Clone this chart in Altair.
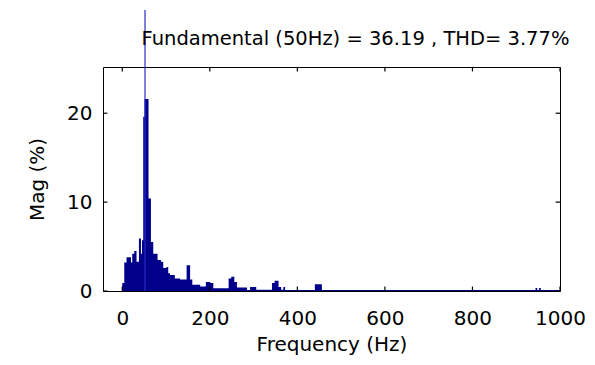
import altair as alt
import pandas as pd

# Spectrum: step segments starting at f_start (Hz), magnitude (% of fundamental)
f_start = [0, 4.6, 9.8, 19.9, 22.8, 27.4, 32.6, 38.1, 42.7, 45.0, 47.9, 50.9, 60.0, 65.5,
           70.8, 80.6, 88.4, 93.6, 101, 105, 109, 120, 132, 147, 155, 160, 178, 191, 201,
           208, 243, 249, 256, 262, 285, 292, 306, 342, 348, 357, 363, 368, 372, 440, 456,
           944, 948, 952, 956, 1000]
mag = [0.9, 3.2, 3.8, 3.2, 4.2, 4.5, 3.3, 5.9, 4.2, 5.7, 19.6, 21.6, 10.4, 5.5,
       4.2, 3.5, 3.3, 2.6, 2.7, 2.0, 1.8, 1.4, 1.3, 2.9, 1.3, 0.7, 0.5, 1.0, 0.9,
       0.3, 1.4, 1.6, 1.0, 0.4, 0.1, 0.45, 0.15, 0.9, 1.15, 0.45, 0.15, 0.45, 0.12, 0.75, 0.12,
       0.35, 0.12, 0.35, 0.12, 0.12]

fund_freq = [52]
fund_top = [31.6]

x_ticks = [0, 200, 400, 600, 800, 1000]
y_ticks = [0, 10, 20]
x_domain = [-44, 1000]
y_domain = [0, 25.2]
# inward tick length in data units (about 4-5 px)
x_tick_len = 0.5
y_tick_len = 10

title_text = "Fundamental (50Hz) = 36.19 , THD= 3.77%"
FONT = "DejaVu Sans"
NAVY = "#00008b"

spec = pd.DataFrame({"f": f_start, "m": mag})
fund = pd.DataFrame({"f": fund_freq, "top": fund_top})
n = len(x_ticks)
xt = pd.DataFrame({
    "f": x_ticks * 2,
    "y0": [y_domain[0]] * n + [y_domain[1]] * n,
    "y1": [y_domain[0] + x_tick_len] * n + [y_domain[1] - x_tick_len] * n,
})
k = len(y_ticks)
yt = pd.DataFrame({
    "m": y_ticks * 2,
    "x0": [x_domain[0]] * k + [x_domain[1]] * k,
    "x1": [x_domain[0] + y_tick_len] * k + [x_domain[1] - y_tick_len] * k,
})

xs = alt.Scale(domain=x_domain, nice=False, zero=False)
ys = alt.Scale(domain=y_domain, nice=False)

area = alt.Chart(spec).mark_area(interpolate="step-after", color=NAVY, clip=True).encode(
    x=alt.X("f:Q", scale=xs, title="Frequency (Hz)",
            axis=alt.Axis(values=x_ticks, ticks=False, domain=False, grid=False, labelFlush=False,
                          labelPadding=17, titlePadding=6, format="d")),
    y=alt.Y("m:Q", scale=ys, title="Mag (%)",
            axis=alt.Axis(values=y_ticks, ticks=False, domain=False, grid=False, labelFlush=False,
                          labelPadding=11, titlePadding=19, format="d")),
)

rule = alt.Chart(fund).mark_rule(color="#2a2ac8", strokeWidth=1.2, clip=False).encode(
    x=alt.X("f:Q", scale=xs),
    y=alt.Y("top:Q", scale=ys),
    y2=alt.datum(0),
)

xtick = alt.Chart(xt).mark_rule(color="black", strokeWidth=1.2).encode(
    x=alt.X("f:Q", scale=xs), y=alt.Y("y0:Q", scale=ys), y2="y1:Q"
)
ytick = alt.Chart(yt).mark_rule(color="black", strokeWidth=1.2).encode(
    y=alt.Y("m:Q", scale=ys), x=alt.X("x0:Q", scale=xs), x2="x1:Q"
)

chart = alt.layer(area, rule, xtick, ytick).properties(
    width=457, height=224,
    padding={"left": 103, "top": 67, "right": 35, "bottom": 74},
    autosize=alt.AutoSizeParams(type="none"),
    background="white",
    title=alt.Title(title_text, font=FONT, fontSize=19.5, fontWeight="normal", color="black",
                    anchor="middle", dx=24, offset=-59, baseline="bottom", frame="group"),
).configure_view(stroke="black", strokeWidth=1).configure_axis(
    labelFont=FONT, labelFontSize=20, labelColor="black",
    titleFont=FONT, titleFontSize=20, titleColor="black", titleFontWeight="normal",
)

chart.save("out.html", embed_options={"renderer": "svg", "actions": False})
